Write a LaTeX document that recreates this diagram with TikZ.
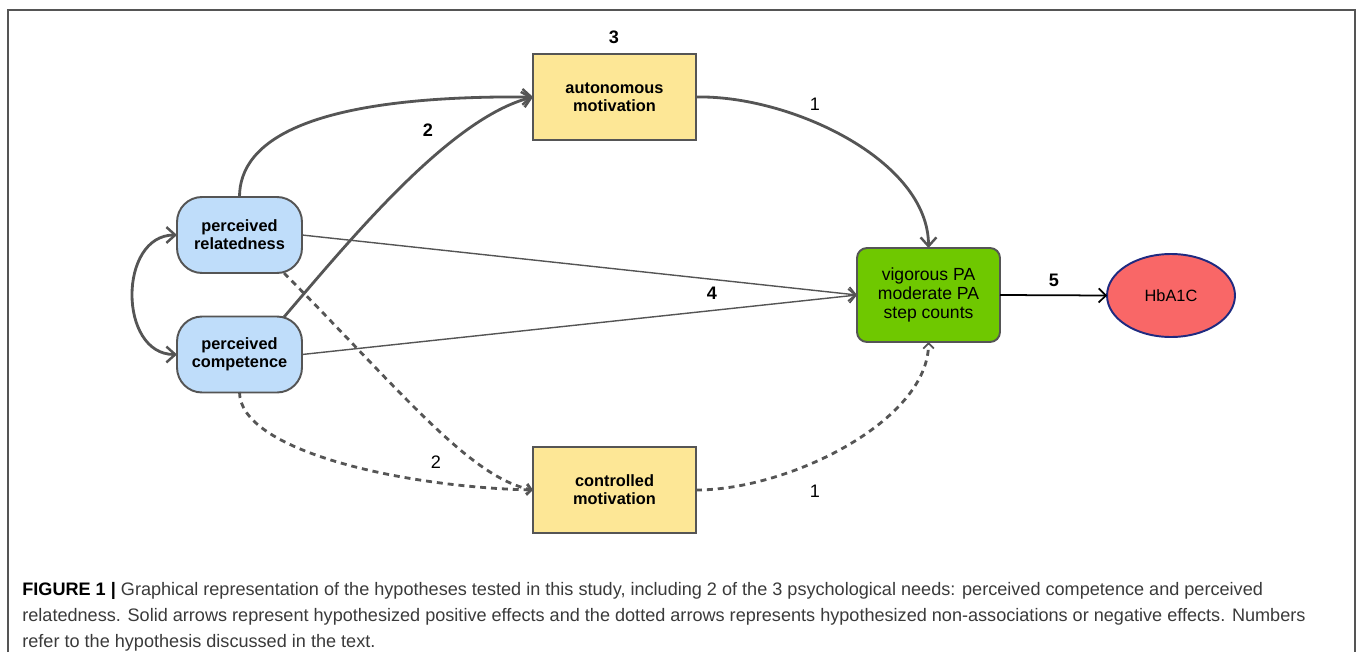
\documentclass[tikz,border=0pt]{standalone}
\usepackage{fontspec}
\setmainfont{Liberation Sans}
\newfontfamily\capfont{Liberation Sans}
\usetikzlibrary{arrows.meta,shapes.geometric}
\definecolor{edgegray}{HTML}{555555}
\definecolor{boxyellow}{HTML}{FDE796}
\definecolor{boxblue}{HTML}{BFDDFA}
\definecolor{boxgreen}{HTML}{6FC800}
\definecolor{boxred}{HTML}{F96767}
\definecolor{navy}{HTML}{1F2A80}
\definecolor{captext}{HTML}{3A3A3A}
\tikzset{
  base/.style={draw=edgegray, line width=1.1pt, inner sep=0pt, outer sep=0pt, align=center, text=black},
  motbox/.style={base, rectangle, fill=boxyellow, minimum width=3.26cm, minimum height=1.72cm, font=\bfseries\fontsize{9.3}{10.4}\selectfont},
  needbox/.style={base, rectangle, rounded corners=0.5cm, fill=boxblue, minimum width=2.5cm, minimum height=1.52cm, font=\bfseries\fontsize{9.3}{10.4}\selectfont},
  pabox/.style={base, rectangle, rounded corners=0.2cm, fill=boxgreen, minimum width=2.86cm, minimum height=1.88cm, font=\fontsize{10}{10.8}\selectfont},
  hbnode/.style={base, ellipse, draw=navy, fill=boxred, minimum width=2.56cm, minimum height=1.66cm, font=\fontsize{9.3}{11}\selectfont},
  numlab/.style={font=\bfseries\fontsize{10.3}{12}\selectfont, inner sep=0pt},
  numlabreg/.style={font=\fontsize{10.3}{12}\selectfont, inner sep=0pt},
  tip/.tip={Straight Barb[length=5pt,width=9pt,line width=1.4pt]},
  thickarrow/.style={draw=edgegray, line width=1.6pt, -tip},
  thinarrow/.style={draw=edgegray, line width=0.8pt, -{Straight Barb[length=4pt,width=8pt,line width=1pt]}},
  dasharrow/.style={draw=edgegray, line width=1.6pt, dash pattern=on 3.4pt off 2.8pt, -{Straight Barb[length=3pt,width=6pt,line width=1pt]}},
}
\begin{document}
\begin{tikzpicture}[x=0.02cm, y=-0.02cm]
\useasboundingbox (0,0) rectangle (1358,652);
% frame
\draw[edgegray, line width=1.1pt] (8,652) -- (8,10) -- (1355,10) -- (1355,652);

% nodes
\node[motbox] (auto) at (614.5,97) {autonomous\\motivation};
\node[motbox] (ctrl) at (614.5,490) {controlled\\motivation};
\node[needbox] (rel) at (239.5,235) {perceived\\relatedness};
\node[needbox] (comp) at (239.5,354.5) {perceived\\competence};
\node[pabox] (pa) at (928.5,295) {vigorous PA\\moderate PA\\step counts};
\node[hbnode] (hb) at (1171,295.5) {HbA1C};

% coordinates on borders
\coordinate (relTop) at (239.5,197);
\coordinate (compTR) at (284,317);
\coordinate (relBR) at (284,273);
\coordinate (compBot) at (239.5,392);
\coordinate (paTop) at (928.5,248);
\coordinate (paBot) at (928.5,342);

% solid arrows
\draw[thickarrow] (relTop) .. controls (239.5,140) and (310,95) .. (auto.west);
\draw[thickarrow] (compTR) .. controls (350,240) and (450,118) .. (auto.west);
\draw[thickarrow] (auto.east) .. controls (790,95) and (928.5,160) .. (paTop);
\draw[thinarrow] (rel.east) -- (pa.west);
\draw[thinarrow] (comp.east) -- (pa.west);
\draw[draw=black, line width=1pt, -{Straight Barb[length=4pt,width=8pt,line width=1pt]}] (pa.east) -- (hb.west);
\draw[draw=edgegray, line width=1.6pt, tip-tip] (rel.west) .. controls (118,235) and (118,354.5) .. (comp.west);

% dashed arrows
\draw[dasharrow] (relBR) .. controls (400,390) and (470,478) .. (ctrl.west);
\draw[dasharrow] (compBot) .. controls (239.5,450) and (400,487) .. (ctrl.west);
\draw[dasharrow] (ctrl.east) .. controls (790,490) and (928.5,420) .. (paBot);

% labels
\node[numlab] (l3) at (614,37) {3};
\node[numlab] (l2a) at (428,130) {2};
\node[numlabreg] (l1a) at (815,104) {1};
\node[numlab] (l4) at (712,293) {4};
\node[numlab] (l5) at (1054,280) {5};
\node[numlabreg] (l2b) at (436,462) {2};
\node[numlabreg] (l1b) at (815,491) {1};

% caption
\node[anchor=base west, align=left, inner sep=0pt, text=captext, font=\capfont\fontsize{10.3}{14.7}\selectfont] (cap) at (22,647)
{{\color{black}\bfseries FIGURE 1 |} Graphical representation of the hypotheses tested in this study, including 2 of the 3 psychological needs: perceived competence and perceived\\
relatedness. Solid arrows represent hypothesized positive effects and the dotted arrows represents hypothesized non-associations or negative effects. Numbers\\
refer to the hypothesis discussed in the text.};
\end{tikzpicture}
\end{document}
